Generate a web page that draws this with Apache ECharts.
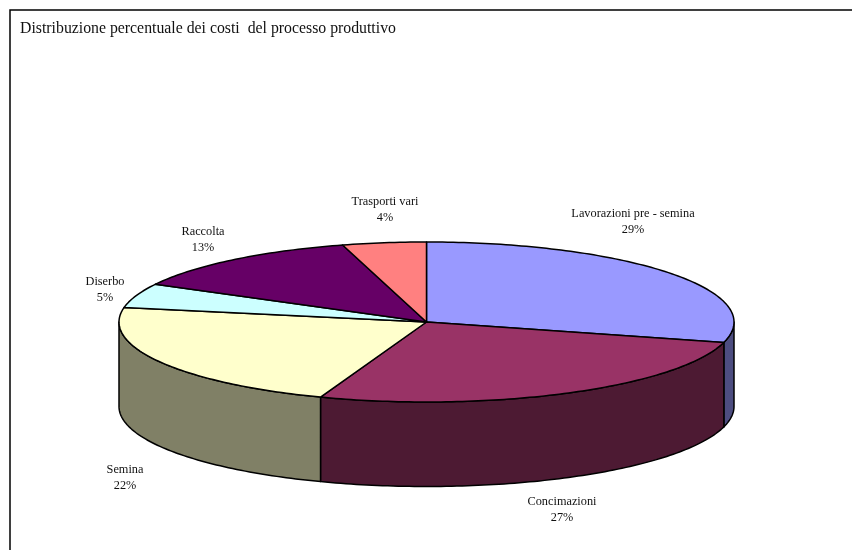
<!DOCTYPE html>
<html>
<head>
<meta charset="utf-8">
<title>Distribuzione percentuale dei costi</title>
<style>
  html, body { margin: 0; padding: 0; background: #fff; }
  #chart { width: 852px; height: 550px; }
</style>
<script src="https://cdn.jsdelivr.net/npm/echarts@6/dist/echarts.min.js"></script>
</head>
<body>
<div id="chart"></div>
<script>
const titleText = 'Distribuzione percentuale dei costi  del processo produttivo';
const categories = ['Lavorazioni pre - semina', 'Concimazioni', 'Semina', 'Diserbo', 'Raccolta', 'Trasporti vari'];
const values = [29.1, 26.5, 22.3, 4.9, 12.8, 4.4];
const percentLabels = ['29%', '27%', '22%', '5%', '13%', '4%'];
const topColors = ['#9999ff', '#993366', '#ffffcc', '#ccffff', '#660066', '#ff8080'];
const sideColors = ['#4d4d80', '#4d1a33', '#808066', '#667f80', '#330033', '#804040'];
// label centres, picked by eye from the reference
const labelX = [633, 562, 125, 105, 203, 385];
const labelY = [222, 510, 478, 290, 240, 210];

const cx = 426.5, cy = 322, rx = 307.5, ry = 80, depth = 84.5;

const total = values.reduce((a, b) => a + b, 0);
const startAngles = [];
values.reduce((sum, v, i) => {
  startAngles[i] = sum / total * 360;
  return sum + v;
}, 0);

// angle in degrees, 0 at 12 o'clock and clockwise
function rimPoint(deg, dy) {
  const t = deg * Math.PI / 180;
  return [cx + rx * Math.sin(t), cy - ry * Math.cos(t) + (dy || 0)];
}

function arcPoints(from, to, dy) {
  const pts = [];
  const n = Math.max(2, Math.ceil(to - from));
  for (let i = 0; i <= n; i++) {
    pts.push(rimPoint(from + (to - from) * i / n, dy));
  }
  return pts;
}

const lineStyle = { stroke: '#000', lineWidth: 1.5, lineJoin: 'round' };

function renderWall(params, api) {
  const i = api.value(0);
  const from = Math.max(startAngles[i], 90);
  const to = Math.min(startAngles[i] + values[i] / total * 360, 270);
  if (to <= from) return { type: 'group', children: [] };
  const points = arcPoints(from, to, 0).concat(arcPoints(from, to, depth).reverse());
  return {
    type: 'polygon',
    shape: { points },
    style: Object.assign({ fill: sideColors[i] }, lineStyle)
  };
}

function renderTop(params, api) {
  const i = api.value(0);
  const from = startAngles[i];
  const to = from + values[i] / total * 360;
  return {
    type: 'polygon',
    shape: { points: [[cx, cy]].concat(arcPoints(from, to, 0)) },
    style: Object.assign({ fill: topColors[i] }, lineStyle)
  };
}

function renderLabel(params, api) {
  const i = api.value(0);
  return {
    type: 'text',
    x: labelX[i],
    y: labelY[i],
    style: {
      text: categories[i] + '\n' + percentLabels[i],
      fill: '#111',
      font: '12.3px "Liberation Serif"',
      lineHeight: 16,
      align: 'center',
      verticalAlign: 'middle'
    }
  };
}

const indexData = categories.map((c, i) => [i]);

const option = {
  animation: false,
  backgroundColor: '#fff',
  title: {
    text: titleText,
    left: 15,
    top: 16,
    textStyle: { fontFamily: 'Liberation Serif', fontSize: 15.8, fontWeight: 'normal', color: '#111' }
  },
  // only the top and left edges of the frame are inside the picture
  graphic: [{
    type: 'rect',
    shape: { x: 10, y: 10, width: 900, height: 600 },
    style: { fill: 'none', stroke: '#000', lineWidth: 1.5 }
  }],
  series: [
    { type: 'custom', coordinateSystem: 'none', renderItem: renderWall, data: indexData, silent: true },
    { type: 'custom', coordinateSystem: 'none', renderItem: renderTop, data: indexData, silent: true },
    { type: 'custom', coordinateSystem: 'none', renderItem: renderLabel, data: indexData, silent: true }
  ]
};

const chart = echarts.init(document.getElementById('chart'));
chart.setOption(option);
</script>
</body>
</html>
